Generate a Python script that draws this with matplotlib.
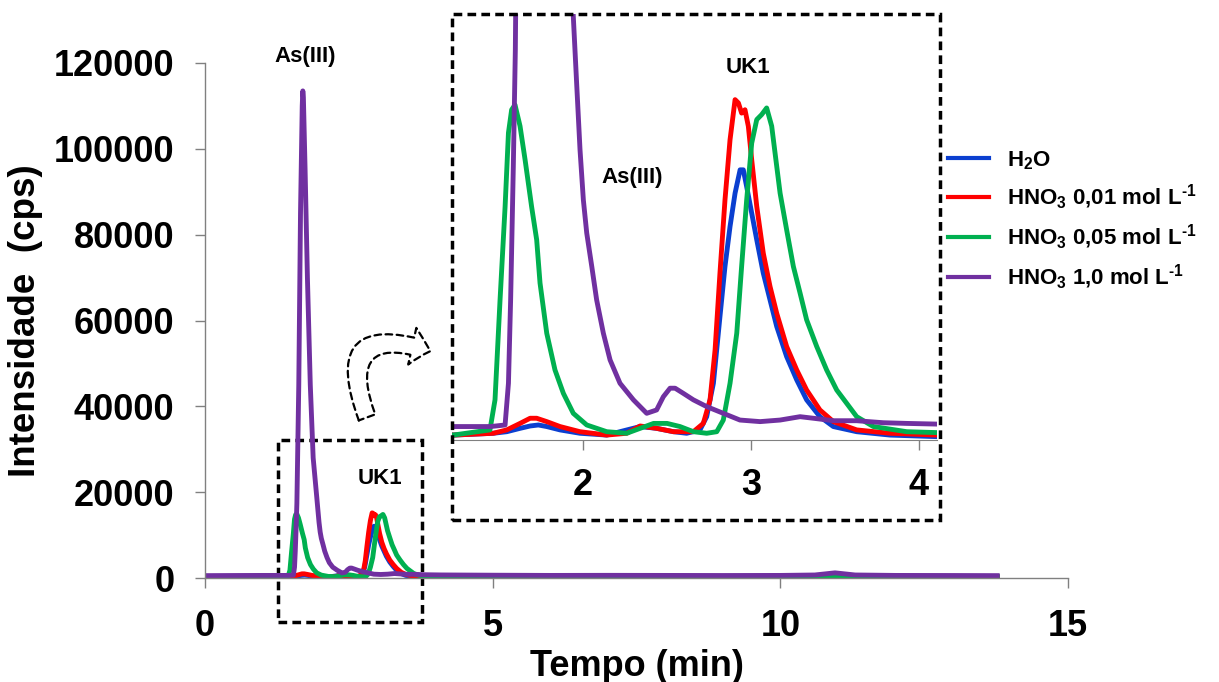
import matplotlib.pyplot as plt
from matplotlib.lines import Line2D
from matplotlib.patches import Rectangle, FancyArrowPatch

plt.rcParams['font.family'] = ['Liberation Sans', 'DejaVu Sans']
plt.rcParams['font.weight'] = 'bold'
plt.rcParams['mathtext.fontset'] = 'custom'
plt.rcParams['mathtext.rm'] = 'Liberation Sans:bold'
plt.rcParams['mathtext.bf'] = 'Liberation Sans:bold'
plt.rcParams['mathtext.it'] = 'Liberation Sans:bold'
plt.rcParams['mathtext.sf'] = 'Liberation Sans:bold'

# cromatogramas (tempo em min, intensidade em cps)
t_h2o = [0.0, 0.5, 1.0, 1.23, 1.466, 1.546, 1.625, 1.685, 1.734, 1.784, 1.863, 1.982,
         2.141, 2.34, 2.438, 2.538, 2.617, 2.696, 2.736, 2.776, 2.815, 2.845, 2.875,
         2.905, 2.935, 2.954, 2.974, 3.004, 3.034, 3.073, 3.113, 3.153, 3.212, 3.272,
         3.331, 3.41, 3.49, 3.629, 3.827, 4.105, 5.0, 6.0, 7.0, 8.0, 9.0, 10.0, 11.0,
         12.0, 13.0, 13.77]
i_h2o = [300, 320, 300, 220, 300, 370, 520, 625, 670, 600, 450, 300,
         220, 600, 520, 370, 300, 450, 1040, 2530, 5500, 7740, 9520,
         11010, 12050, 12050, 11300, 10120, 8930, 7440, 6250, 5060, 3720, 2680,
         1790, 1040, 600, 370, 220, 150, 250, 300, 320, 300, 280, 300, 350,
         300, 280, 250]

t_hno3_001 = [0.0, 0.5, 1.0, 1.23, 1.466, 1.546, 1.625, 1.685, 1.724, 1.784, 1.863, 1.982,
              2.141, 2.26, 2.34, 2.438, 2.538, 2.657, 2.716, 2.756, 2.786, 2.815, 2.845,
              2.875, 2.905, 2.925, 2.944, 2.964, 2.984, 3.004, 3.034, 3.073, 3.113, 3.153,
              3.212, 3.272, 3.331, 3.41, 3.49, 3.629, 3.827, 4.105, 5.0, 6.0, 7.0, 8.0,
              9.0, 10.0, 11.0, 12.0, 13.0, 13.77]
i_hno3_001 = [300, 320, 300, 220, 300, 450, 740, 970, 970, 820, 600, 370,
              220, 300, 625, 520, 370, 370, 740, 1790, 4020, 7440, 10710,
              13390, 15180, 15030, 14580, 14730, 13990, 12500, 10420, 8330, 6850, 5650,
              4170, 3125, 2230, 1340, 820, 450, 300, 220, 280, 300, 320, 300,
              280, 300, 350, 300, 280, 250]

t_hno3_005 = [0.0, 0.5, 1.0, 1.228, 1.446, 1.476, 1.506, 1.536, 1.556, 1.575, 1.595, 1.625,
              1.655, 1.694, 1.724, 1.744, 1.784, 1.833, 1.883, 1.942, 2.022, 2.141, 2.26,
              2.34, 2.42, 2.50, 2.577, 2.657, 2.736, 2.796, 2.835, 2.875, 2.915, 2.944,
              2.974, 3.004, 3.034, 3.063, 3.093, 3.123, 3.143, 3.173, 3.212, 3.252, 3.292,
              3.331, 3.391, 3.45, 3.51, 3.569, 3.629, 3.728, 3.927, 4.105, 5.0, 6.0, 7.0,
              8.0, 9.0, 10.0, 11.0, 12.0, 13.0, 13.77]
i_hno3_005 = [300, 320, 300, 220, 450, 1790, 6250, 10400, 13700, 14730, 14950, 14000,
              12500, 10400, 8930, 7000, 4760, 3125, 2080, 1190, 670, 370, 300,
              520, 740, 740, 600, 370, 300, 370, 890, 2530, 4760, 7740,
              10700, 13240, 14290, 14510, 14810, 14000, 12800, 11010, 9375, 7740, 6550,
              5360, 4170, 3125, 2230, 1640, 1040, 600, 370, 330, 350, 380, 400,
              380, 350, 380, 450, 380, 350, 300]

t_hno3_1 = [0.0, 0.5, 1.0, 1.228, 1.45, 1.536, 1.556, 1.569, 1.585, 1.597, 1.63, 1.66,
            1.69, 1.70, 1.71, 1.74, 1.78, 1.83, 1.88, 1.942, 1.962, 1.982, 2.002, 2.022,
            2.052, 2.081, 2.121, 2.161, 2.22, 2.30, 2.379, 2.438, 2.478, 2.518, 2.548,
            2.597, 2.657, 2.736, 2.835, 2.934, 3.054, 3.173, 3.292, 3.371, 3.49, 3.629,
            3.788, 3.927, 4.105, 5.0, 6.0, 7.0, 8.0, 9.0, 10.0, 10.6, 10.95, 11.3, 12.0,
            13.0, 13.77]
i_hno3_1 = [550, 580, 600, 600, 600, 670, 2530, 6250, 12200, 17400, 45000, 85000,
            110000, 113500, 112000, 95000, 70000, 45000, 28000, 18900, 15900, 12950, 10700, 9230,
            7740, 6250, 4760, 3570, 2530, 1790, 1190, 1340, 1930, 2310, 2310,
            2080, 1790, 1490, 1190, 890, 820, 890, 1040, 970, 860, 860,
            770, 740, 710, 650, 600, 620, 600, 580, 600, 700, 1200, 700, 600,
            580, 550]

series = [
    (t_h2o, i_h2o, '#0b3fd0', 'H$_2$O'),
    (t_hno3_001, i_hno3_001, '#ff0000', r'HNO$_3$ 0,01 mol L$^{\text{-1}}$'),
    (t_hno3_005, i_hno3_005, '#00b050', r'HNO$_3$ 0,05 mol L$^{\text{-1}}$'),
    (t_hno3_1, i_hno3_1, '#7030a0', r'HNO$_3$ 1,0 mol L$^{\text{-1}}$'),
]

W, H = 1219, 682
fig = plt.figure(figsize=(W / 100, H / 100), dpi=100)

# grafico principal
ax = fig.add_axes([205 / W, (H - 578) / H, (1068 - 205) / W, (578 - 63) / H])
for t, i, cor, nome in series:
    ax.plot(t, i, color=cor, lw=3.5, solid_joinstyle='round')
ax.set_xlim(0, 15)
ax.set_ylim(0, 120000)
ax.set_xticks([0, 5, 10, 15])
ax.set_yticks(range(0, 120001, 20000))
ax.spines[['top', 'right']].set_visible(False)
for s in ['left', 'bottom']:
    ax.spines[s].set_color('#808080')
    ax.spines[s].set_linewidth(1)
ax.tick_params(direction='out', length=7, width=1, color='#808080',
               labelsize=26, pad=15)
ax.set_xlabel('Tempo (min)', fontsize=26, fontweight='bold', labelpad=4)
ax.set_ylabel('Intensidade  (cps)', fontsize=26.5, fontweight='bold', labelpad=8)
ax.text(1.74, 121400, 'As(III)', fontsize=16, ha='center', va='center')
ax.text(3.04, 23300, 'UK1', fontsize=16, ha='center', va='center')

# area ampliada
ax.add_patch(Rectangle((1.27, -10300), 3.78 - 1.27, 32200 + 10300, fill=False,
                       ec='black', lw=2.5, ls=(0, (2.5, 1.5)), clip_on=False))

# grafico ampliado
axi = fig.add_axes([452 / W, (H - 440) / H, (937 - 452) / W, (440 - 14) / H])
for t, i, cor, nome in series:
    axi.plot(t, i, color=cor, lw=3.5, solid_joinstyle='round')
axi.set_xlim(1.22, 4.107)
axi.set_ylim(0, 19000)
axi.set_xticks([2, 3, 4])
axi.set_yticks([])
axi.spines[['top', 'right', 'left']].set_visible(False)
axi.spines['bottom'].set_color('#808080')
axi.tick_params(direction='out', length=7, width=1, color='#808080',
                labelsize=26, pad=13)
axi.text(2.29, 11700, 'As(III)', fontsize=16, ha='center', va='center')
axi.text(2.98, 16600, 'UK1', fontsize=16, ha='center', va='center')

fig.add_artist(Rectangle((452 / W, (H - 520) / H), (940 - 452) / W, (520 - 14) / H,
                         transform=fig.transFigure, fill=False, ec='black',
                         lw=2.5, ls=(0, (2.5, 1.5))))

seta = FancyArrowPatch((368 / W, (H - 420) / H), (433 / W, (H - 352) / H),
                       transform=fig.transFigure,
                       connectionstyle='arc3,rad=-1.05',
                       arrowstyle='simple,head_length=0.45,head_width=0.9,tail_width=0.42',
                       mutation_scale=30, fc='white', ec='black', lw=1.6,
                       ls=(0, (3, 2)))
fig.add_artist(seta)

handles = [Line2D([], [], color=cor, lw=3) for t, i, cor, nome in series]
labels = [nome for t, i, cor, nome in series]
fig.legend(handles, labels, loc='upper left', bbox_to_anchor=(948 / W, (H - 149) / H),
           frameon=False, fontsize=16, handlelength=1.85, handletextpad=0.8,
           labelspacing=0.5, borderpad=0, borderaxespad=0)

fig.savefig('out.png', dpi=100)
